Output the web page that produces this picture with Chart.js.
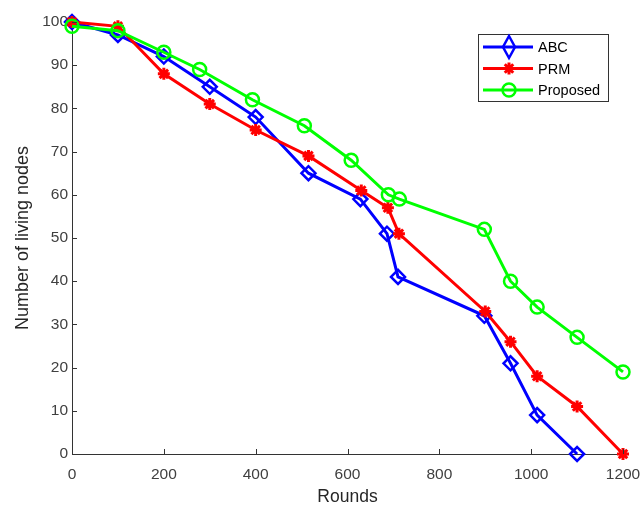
<!DOCTYPE html>
<html>
<head>
<meta charset="utf-8">
<title>Living nodes</title>
<script src="https://cdn.jsdelivr.net/npm/chart.js@4"></script>
<style>
	html, body { margin: 0; padding: 0; background: #fff; }
	#wrap { width: 641px; height: 505px; }
</style>
</head>
<body>
<div id="wrap"><canvas id="myChart"></canvas></div>
<script>
const abcColor = '#0000ff'
const prmColor = '#ff0000'
const proposedColor = '#00ff00'
const axisColor = '#333333'
const fontFamily = '"Liberation Sans", Arial, sans-serif'

const seriesNames = ['ABC', 'PRM', 'Proposed']

const abcRounds = [0, 100, 200, 300, 400, 515, 628, 686, 710, 898, 955, 1013, 1100]
const abcNodes = [100, 97, 92, 85, 78, 65, 59, 51, 41, 32, 21, 9, 0]

const prmRounds = [0, 100, 200, 300, 400, 515, 630, 688, 712, 900, 955, 1013, 1100, 1200]
const prmNodes = [100, 99, 88, 81, 75, 69, 61, 57, 51, 33, 26, 18, 11, 0]

const proposedRounds = [0, 100, 200, 278, 393, 506, 608, 689, 713, 898, 955, 1013, 1100, 1200]
const proposedNodes = [99, 98, 93, 89, 82, 76, 68, 60, 59, 52, 40, 34, 27, 19]

const xTicks = [0, 200, 400, 600, 800, 1000, 1200]
const yTicks = [0, 10, 20, 30, 40, 50, 60, 70, 80, 90, 100]

function toPoints(xs, ys) {
	var pts = []
	for (var i = 0; i < xs.length; i++) {
		pts.push({ x: xs[i], y: ys[i] })
	}
	return pts
}

// small tick marks pointing into the plot, like a matlab axes
const innerTicks = {
	id: 'innerTicks',
	afterDatasetsDraw(chart) {
		const ctx = chart.ctx
		const xs = chart.scales.x
		const ys = chart.scales.y
		const area = chart.chartArea
		ctx.save()
		ctx.strokeStyle = axisColor
		ctx.lineWidth = 1
		ctx.beginPath()
		xTicks.forEach(function (v) {
			var px = Math.round(xs.getPixelForValue(v)) + 0.5
			ctx.moveTo(px, area.bottom)
			ctx.lineTo(px, area.bottom - 5)
		})
		yTicks.forEach(function (v) {
			var py = Math.round(ys.getPixelForValue(v)) + 0.5
			ctx.moveTo(area.left, py)
			ctx.lineTo(area.left + 5, py)
		})
		ctx.stroke()
		ctx.restore()
	}
}

// boxed legend with line + marker samples in the upper right
const boxLegend = {
	id: 'boxLegend',
	afterDraw(chart) {
		const ctx = chart.ctx
		const area = chart.chartArea
		const boxW = 130
		const boxH = 67
		const bx = area.right - 145
		const by = area.top + 12
		ctx.save()
		ctx.fillStyle = '#ffffff'
		ctx.fillRect(bx, by, boxW, boxH)
		ctx.strokeStyle = '#333333'
		ctx.lineWidth = 1
		ctx.strokeRect(bx + 0.5, by + 0.5, boxW, boxH)
		chart.data.datasets.forEach(function (ds, i) {
			var ly = by + 13 + i * 21.5
			var mx = bx + 31
			ctx.strokeStyle = ds.borderColor
			ctx.lineWidth = ds.borderWidth
			ctx.beginPath()
			ctx.moveTo(bx + 5, ly)
			ctx.lineTo(bx + 55, ly)
			ctx.stroke()
			ctx.lineWidth = ds.pointBorderWidth
			if (ds.pointStyle === 'rectRot') {
				// the legend diamond is drawn stretched vertically
				ctx.beginPath()
				ctx.moveTo(mx, ly - 11)
				ctx.lineTo(mx + 6, ly)
				ctx.lineTo(mx, ly + 11)
				ctx.lineTo(mx - 6, ly)
				ctx.closePath()
				ctx.stroke()
			} else {
				ctx.fillStyle = ds.pointBackgroundColor
				Chart.helpers.drawPoint(ctx, {
					pointStyle: ds.pointStyle,
					radius: ds.pointRadius,
					borderWidth: ds.pointBorderWidth,
					rotation: 0
				}, mx, ly)
			}
			ctx.fillStyle = '#000000'
			ctx.font = '14.5px ' + fontFamily
			ctx.textBaseline = 'middle'
			ctx.fillText(ds.label, bx + 60, ly + 1)
		})
		ctx.restore()
	}
}

function makeSet(label, xs, ys, color, style, radius, order) {
	var fill = style === 'star' ? color : 'rgba(255,255,255,0)'
	return {
		label: label,
		data: toPoints(xs, ys),
		borderColor: color,
		backgroundColor: fill,
		pointBackgroundColor: fill,
		pointBorderColor: color,
		borderWidth: 3,
		pointBorderWidth: style === 'star' ? 3 : 2.5,
		pointStyle: style,
		pointRadius: radius,
		tension: 0,
		clip: false,
		order: order
	}
}

var ctx = document.getElementById('myChart')
var lineChart = new Chart(ctx, {
	type: 'line',
	data: {
		datasets: [
			makeSet(seriesNames[0], abcRounds, abcNodes, abcColor, 'rectRot', 7, 2),
			makeSet(seriesNames[1], prmRounds, prmNodes, prmColor, 'star', 6, 1),
			makeSet(seriesNames[2], proposedRounds, proposedNodes, proposedColor, 'circle', 6.5, 0)
		]
	},
	options: {
		responsive: true,
		maintainAspectRatio: false,
		animation: false,
		layout: { padding: { top: 22, right: 18, left: 0, bottom: 0 } },
		plugins: {
			legend: { display: false },
			tooltip: { enabled: false }
		},
		scales: {
			x: {
				type: 'linear',
				min: 0,
				max: 1200,
				afterFit: function (scale) {
					scale.height = 51
					scale.paddingLeft = 0
					scale.paddingRight = 0
				},
				afterBuildTicks: function (scale) {
					scale.ticks = xTicks.map(function (v) { return { value: v } })
				},
				grid: { display: false },
				border: { display: true, color: axisColor, width: 1 },
				ticks: {
					color: '#404040',
					padding: 3,
					maxRotation: 0,
					callback: function (v) { return String(v) },
					font: { family: fontFamily, size: 15.5 }
				},
				title: {
					display: true,
					text: 'Rounds',
					color: '#262626',
					padding: { top: 0, bottom: -3 },
					font: { family: fontFamily, size: 17.5 }
				}
			},
			y: {
				min: 0,
				max: 100,
				afterFit: function (scale) {
					scale.width = 72
					scale.paddingTop = 0
					scale.paddingBottom = 0
				},
				afterBuildTicks: function (scale) {
					scale.ticks = yTicks.map(function (v) { return { value: v } })
				},
				grid: { display: false, tickLength: 0 },
				border: { display: true, color: axisColor, width: 1 },
				ticks: {
					color: '#404040',
					padding: 4,
					font: { family: fontFamily, size: 15.5 }
				},
				title: {
					display: true,
					text: 'Number of living nodes',
					color: '#262626',
					padding: { top: 12, bottom: 0 },
					font: { family: fontFamily, size: 18 }
				}
			}
		}
	},
	plugins: [innerTicks, boxLegend]
})
</script>
</body>
</html>
